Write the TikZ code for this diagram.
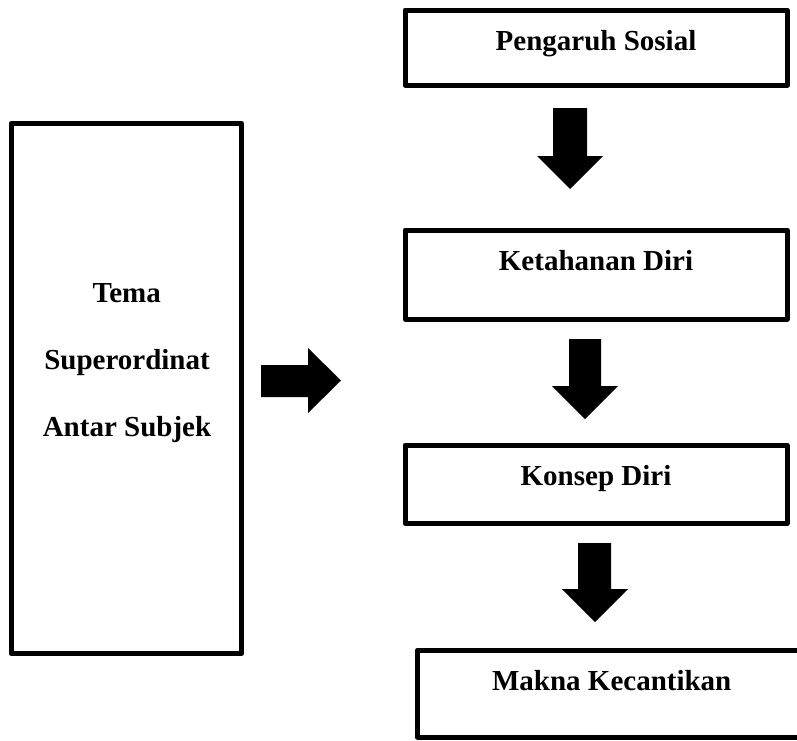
\documentclass[tikz,border=0pt]{standalone}
\usepackage{fontspec}
\setmainfont{Liberation Serif}
\begin{document}
\begin{tikzpicture}[x=1pt,y=-1pt,
  box/.style={draw=black, line width=5pt, line join=round, inner sep=0pt, outer sep=0pt},
  label/.style={anchor=base, inner sep=0pt, font=\fontsize{29}{34}\selectfont\bfseries},
  blockarrow/.style={fill=black}]
\useasboundingbox (0,0) rectangle (797,740);
\clip (0,0) rectangle (797,740);

% frames
\node[box, minimum width=230.5pt, minimum height=530pt] (tema) at (126.25,388.5) {};
\node[box, minimum width=382pt, minimum height=75pt] (sosial) at (596,47.5) {};
\node[box, minimum width=382pt, minimum height=89pt] (tahan) at (596,274.5) {};
\node[box, minimum width=382pt, minimum height=78.5pt] (konsep) at (596,484.25) {};
\node[box, minimum width=388.5pt, minimum height=87pt] (makna) at (611.75,693.5) {};

% captions
\node[label] (t1) at (126.7,302.3) {Tema};
\node[label] (t2) at (127,369.3) {Superordinat};
\node[label] (t3) at (127,436.7) {Antar Subjek};
\node[label] (l1) at (596,50) {Pengaruh Sosial};
\node[label] (l2) at (596,270) {Ketahanan Diri};
\node[label] (l3) at (596,485) {Konsep Diri};
\node[label] (l4) at (611.7,690) {Makna Kecantikan};

% block arrows
\fill[blockarrow] (261,365) -- (308,365) -- (308,348) -- (341,380.5) -- (308,413) -- (308,397) -- (261,397) -- cycle;
\fill[blockarrow] (553,108) -- (587,108) -- (587,156) -- (603,156) -- (570,189) -- (537,156) -- (553,156) -- cycle;
\fill[blockarrow] (569,339) -- (601,339) -- (601,386) -- (618,386) -- (585,419) -- (552,386) -- (569,386) -- cycle;
\fill[blockarrow] (578,543) -- (611,543) -- (611,589) -- (628,589) -- (595,622) -- (562,589) -- (578,589) -- cycle;
\end{tikzpicture}
\end{document}
